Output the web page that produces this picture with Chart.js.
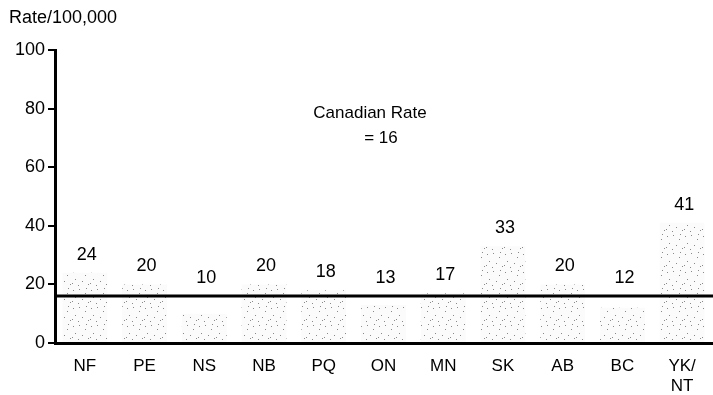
<!DOCTYPE html>
<html lang="en">
<head>
  <meta charset="UTF-8" />
  <title>Rate/100,000 by province</title>
  <script src="https://cdn.jsdelivr.net/npm/chart.js"></script>
  <style>
    body { margin: 0; background: #fff; }
    #wrap { width: 713px; height: 395px; }
  </style>
</head>
<body>
  <div id="wrap"><canvas id="chart" width="713" height="395"></canvas></div>
  <script>
    const provinces = ['NF', 'PE', 'NS', 'NB', 'PQ', 'ON', 'MN', 'SK', 'AB', 'BC', ['YK/', 'NT']];
    const rates = [24, 20, 10, 20, 18, 13, 17, 33, 20, 12, 41];
    const canadianRate = 16;
    const yTicks = [0, 20, 40, 60, 80, 100];

    const FONT = 'Liberation Sans, Arial, sans-serif';

    // faint stippled fill like the scanned bars
    function stipple() {
      const c = document.createElement('canvas');
      c.width = 18; c.height = 18;
      const g = c.getContext('2d');
      g.fillStyle = '#fbfbfb';
      g.fillRect(0, 0, 18, 18);
      const dots = [[1, 2], [7, 1], [13, 5], [3, 9], [10, 11], [16, 14], [6, 15], [0, 13], [14, 0]];
      g.fillStyle = '#8a8a8a';
      dots.forEach(d => g.fillRect(d[0], d[1], 1, 1));
      return g.createPattern(c, 'repeat');
    }

    const extras = {
      id: 'extras',
      afterDatasetsDraw(chart) {
        const ctx = chart.ctx;
        const y = chart.scales.y;
        const area = chart.chartArea;
        const lineY = y.getPixelForValue(canadianRate);

        // Canadian rate line
        ctx.save();
        ctx.strokeStyle = '#000';
        ctx.lineWidth = 3;
        ctx.beginPath();
        ctx.moveTo(area.left, lineY);
        ctx.lineTo(chart.width, lineY);
        ctx.stroke();

        // value labels
        ctx.fillStyle = '#000';
        ctx.font = '18px ' + FONT;
        ctx.textAlign = 'center';
        ctx.textBaseline = 'middle';
        chart.getDatasetMeta(0).data.forEach((bar, i) => {
          const top = Math.min(bar.y, lineY);
          ctx.fillText(String(rates[i]), bar.x + 2, top - 18);
        });

        // annotations
        ctx.font = '17px ' + FONT;
        ctx.fillText('Canadian Rate', 370, 113);
        ctx.fillText('= ' + canadianRate, 381, 138);

        ctx.font = '18px ' + FONT;
        ctx.textAlign = 'left';
        ctx.fillText('Rate/100,000', 9, 18);
        ctx.restore();
      }
    };

    new Chart(document.getElementById('chart'), {
      type: 'bar',
      data: {
        labels: provinces,
        datasets: [{
          data: rates,
          backgroundColor: stipple(),
          borderWidth: 0,
          categoryPercentage: 1,
          barPercentage: 0.75
        }]
      },
      options: {
        responsive: false,
        animation: false,
        layout: { padding: { top: 50, right: 1, left: 0, bottom: 0 } },
        plugins: { legend: { display: false }, tooltip: { enabled: false } },
        scales: {
          x: {
            grid: { display: false },
            border: { display: true, color: '#000', width: 3 },
            ticks: { color: '#000', font: { size: 17, family: FONT }, padding: 5, maxRotation: 0 },
            afterFit(s) { s.height = 52; }
          },
          y: {
            min: 0,
            max: 100,
            afterBuildTicks(s) { s.ticks = yTicks.map(v => ({ value: v })); },
            grid: { drawOnChartArea: false, drawTicks: true, tickLength: 7, color: '#000', lineWidth: 2 },
            border: { display: true, color: '#000', width: 3 },
            ticks: { color: '#000', font: { size: 18, family: FONT }, padding: 3 },
            afterFit(s) { s.width = 55; }
          }
        }
      },
      plugins: [extras]
    });
  </script>
</body>
</html>
